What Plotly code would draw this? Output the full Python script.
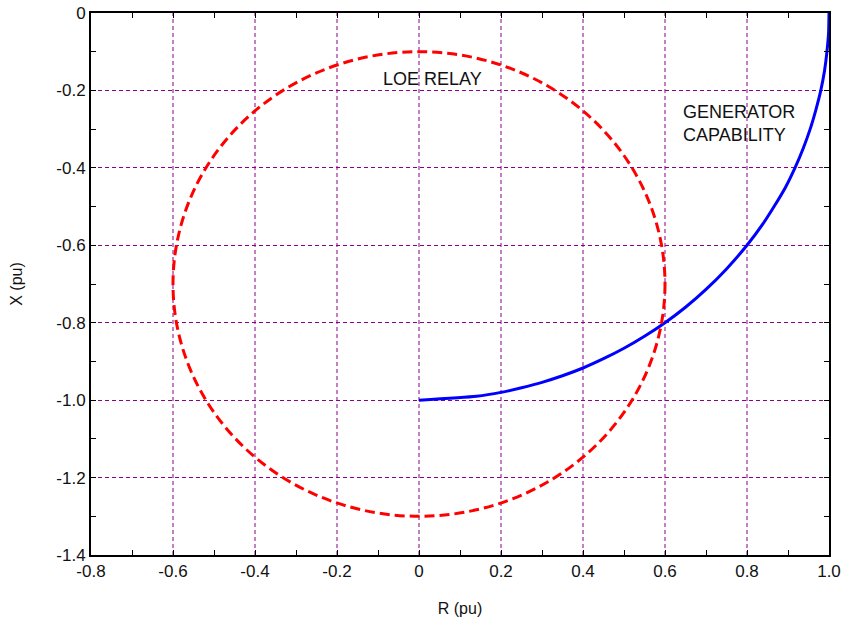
import plotly.graph_objects as go

# Generator capability limit (R, X in per-unit)
cap_r = [0.0, 0.14, 0.2, 0.25, 0.3, 0.35, 0.4, 0.45, 0.5, 0.55, 0.6, 0.65, 0.7, 0.75, 0.8,
         0.84, 0.866, 0.894, 0.917, 0.937, 0.954, 0.968, 0.98, 0.989, 0.995, 0.999, 1.0]
cap_x = [-1.0, -0.99, -0.98, -0.968, -0.954, -0.937, -0.917, -0.893, -0.866, -0.835, -0.8, -0.76,
         -0.714, -0.661, -0.6, -0.543, -0.5, -0.45, -0.4, -0.35, -0.3, -0.25, -0.2, -0.15, -0.1, -0.05, 0.0]

# Loss-of-excitation relay mho circle: offset and diameter (pu)
relay_center_r = 0.0
relay_center_x = -0.7
relay_radius = 0.6

x_ticks = [-0.8, -0.6, -0.4, -0.2, 0.0, 0.2, 0.4, 0.6, 0.8, 1.0]
x_tick_text = ["-0.8", "-0.6", "-0.4", "-0.2", "0", "0.2", "0.4", "0.6", "0.8", "1.0"]
y_ticks = [0.0, -0.2, -0.4, -0.6, -0.8, -1.0, -1.2, -1.4]
y_tick_text = ["0", "-0.2", "-0.4", "-0.6", "-0.8", "-1.0", "-1.2", "-1.4"]

FONT = "Liberation Sans, Arial, sans-serif"
GRID = "#8b008b"

fig = go.Figure()

# Vertical grid lines at the R tick values, in the same purple dashed style
for xv in x_ticks[1:-1]:
    fig.add_shape(type="line", xref="x", yref="paper", x0=xv, x1=xv, y0=0, y1=1,
                  line=dict(color=GRID, width=1, dash="4px,3px"), layer="below")

fig.add_trace(go.Scatter(
    x=cap_r, y=cap_x, mode="lines",
    line=dict(color="#0000ff", width=3, shape="spline", smoothing=0.6),
    showlegend=False, hoverinfo="skip",
))

fig.add_shape(
    type="circle", xref="x", yref="y",
    x0=relay_center_r - relay_radius, x1=relay_center_r + relay_radius,
    y0=relay_center_x - relay_radius, y1=relay_center_x + relay_radius,
    line=dict(color="#ff0000", width=3, dash="10px,5px"),
    layer="above",
)

fig.add_annotation(x=0.033, y=-0.17, text="LOE RELAY", showarrow=False,
                   xanchor="center", yanchor="middle",
                   font=dict(family=FONT, size=18, color="#111111"))
fig.add_annotation(x=0.638, y=-0.285, text="GENERATOR<br>CAPABILITY", showarrow=False,
                   xanchor="left", yanchor="middle", align="left",
                   font=dict(family=FONT, size=18, color="#111111"))

axis_common = dict(
    showline=True, linecolor="black", linewidth=2, mirror="ticks",
    ticks="inside", ticklen=5, tickcolor="black", tickwidth=1,
    gridcolor=GRID, gridwidth=1, griddash="4px,3px",
    zeroline=False, automargin=False,
    tickfont=dict(family=FONT, size=17, color="#111111"),
    minor=dict(ticks="inside", ticklen=5, tickcolor="black", showgrid=False,
               dtick=0.1, tick0=0),
)

fig.update_xaxes(
    range=[-0.8, 1.0], tickvals=x_ticks, ticktext=x_tick_text, showgrid=False,
    title=dict(text="R (pu)", standoff=22, font=dict(family=FONT, size=16, color="#111111")),
    **axis_common,
)
fig.update_yaxes(
    range=[-1.4, 0.0], tickvals=y_ticks, ticktext=y_tick_text, showgrid=True,
    title=dict(text="X (pu)", standoff=30, font=dict(family=FONT, size=16, color="#111111")),
    **axis_common,
)

fig.update_layout(
    width=848, height=626,
    margin=dict(l=91, r=19, t=13, b=71),
    plot_bgcolor="white", paper_bgcolor="white",
    font=dict(family=FONT),
)

fig.write_html("out.html")
